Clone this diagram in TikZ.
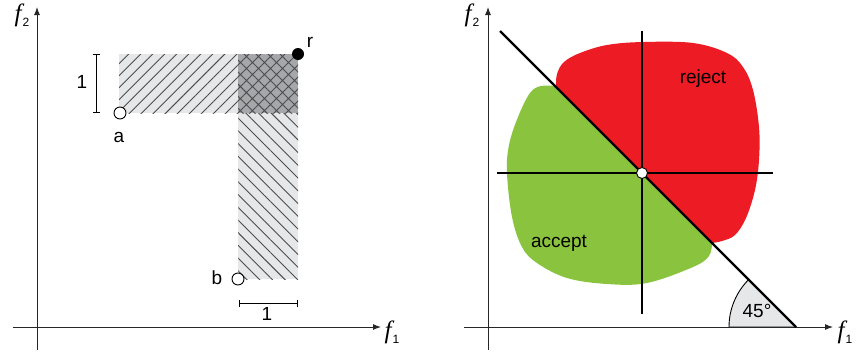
\documentclass[tikz,border=0pt]{standalone}
\usepackage{fontspec}
\setmainfont{Liberation Sans}
\newfontfamily\fserif{Liberation Serif}
\usepackage{xcolor}
\usetikzlibrary{patterns.meta, arrows.meta}
\definecolor{rejred}{HTML}{ED1C24}
\definecolor{accgreen}{HTML}{8AC43F}
\definecolor{boxlight}{HTML}{E6E7E8}
\definecolor{boxdark}{HTML}{A5A7AA}
\newcommand{\flab}[1]{{\fserif\itshape\fontsize{25}{28}\selectfont f}\kern1pt\raisebox{-5pt}{\fontsize{12}{14}\selectfont #1}}
\tikzset{every node/.append style={font=\fontsize{19}{22}\selectfont, inner sep=1pt}}

\begin{document}
\begin{tikzpicture}[x=1pt, y=-1pt,
    axisline/.style={line width=1pt, black!85, -{Latex[length=8pt, width=6pt]}},
    thickline/.style={line width=2.4pt},
    scalebar/.style={line width=0.9pt, {Bar[width=7pt]}-{Bar[width=7pt]}},
    opendot/.style={circle, draw, line width=0.9pt, fill=white, minimum size=12pt, inner sep=0pt},
    fulldot/.style={circle, fill=black, minimum size=12pt, inner sep=0pt},
    hatchline/.style={pattern color=black!70}]
    \useasboundingbox (0,0) rectangle (856,351);
    % left panel
    \draw[axisline] (13,327) -- (381,327);
    \draw[axisline] (37,350) -- (37,7);
    \node (fxl) at (392,332) {\flab{1}};
    \node (fyl) at (22,15) {\flab{2}};
    \fill[boxlight] (119,54) rectangle (238,113);
    \fill[hatchline, pattern={Lines[angle=45, distance=8.5pt, line width=0.9pt]}] (119,54) rectangle (238,113);
    \fill[boxlight] (238,113) rectangle (298,279);
    \fill[hatchline, pattern={Lines[angle=-45, distance=9pt, line width=0.9pt]}] (238,113) rectangle (298,279);
    \fill[boxdark] (238,54) rectangle (298,113);
    \fill[hatchline, pattern={Hatch[angle=45, distance=8.5pt, line width=0.9pt]}] (238,54) rectangle (298,113);
    \node[opendot] (a) at (120,113) {};
    \node[opendot] (b) at (238,279) {};
    \node[fulldot] (r) at (298,54) {};
    \node (la) at (119,137) {a};
    \node (lb) at (217,278) {b};
    \node (lr) at (310,42) {r};
    \coordinate (vbtop) at (96,54);
    \coordinate (vbbot) at (96,113);
    \coordinate (hbl) at (239,303);
    \coordinate (hbr) at (298,303);
    \draw[scalebar] (vbtop) -- (vbbot);
    \draw[scalebar] (hbl) -- (hbr);
    \node (lv) at (82,82) {1};
    \node (lh) at (267,314) {1};
    % right panel
    \draw[axisline] (464,327) -- (833,327);
    \draw[axisline] (488,350) -- (488,7);
    \node (fxr) at (845,332) {\flab{1}};
    \node (fyr) at (472,15) {\flab{2}};
    \fill[rejred] plot[smooth, tension=0.6] coordinates {(556,87) (557,74) (564,62) (580,53) (607,45) (643,42) (693,43) (727,53) (743,67) (753,90) (759,127) (759,160) (755,190) (746,218) (735,235) (722,241) (712,243)} -- cycle;
    \fill[accgreen] plot[smooth, tension=0.6] coordinates {(712,243) (709,256) (693,267) (647,283) (607,284) (567,278) (537,263) (522,247) (512,217) (507,173) (509,145) (518,117) (530,93) (541,86) (555,86)} -- cycle;
    \filldraw[fill=boxlight, line width=0.9pt] (796,327) -- (729,327) arc[start angle=180, end angle=225, radius=67] -- cycle;
    \node (ang) at (757,311) {45°};
    \node (lrej) at (703,79) {reject};
    \node (lacc) at (559,243) {accept};
    \coordinate (dtop) at (500,31);
    \coordinate (dbot) at (796,327);
    \coordinate (vtop) at (642,31);
    \coordinate (vbot) at (642,314);
    \coordinate (hleft) at (497,173);
    \coordinate (hright) at (773,173);
    \draw[thickline] (dtop) -- (dbot);
    \draw[thickline] (vtop) -- (vbot);
    \draw[thickline] (hleft) -- (hright);
    \node[opendot, minimum size=11pt] (o) at (642,173) {};
\end{tikzpicture}
\end{document}
